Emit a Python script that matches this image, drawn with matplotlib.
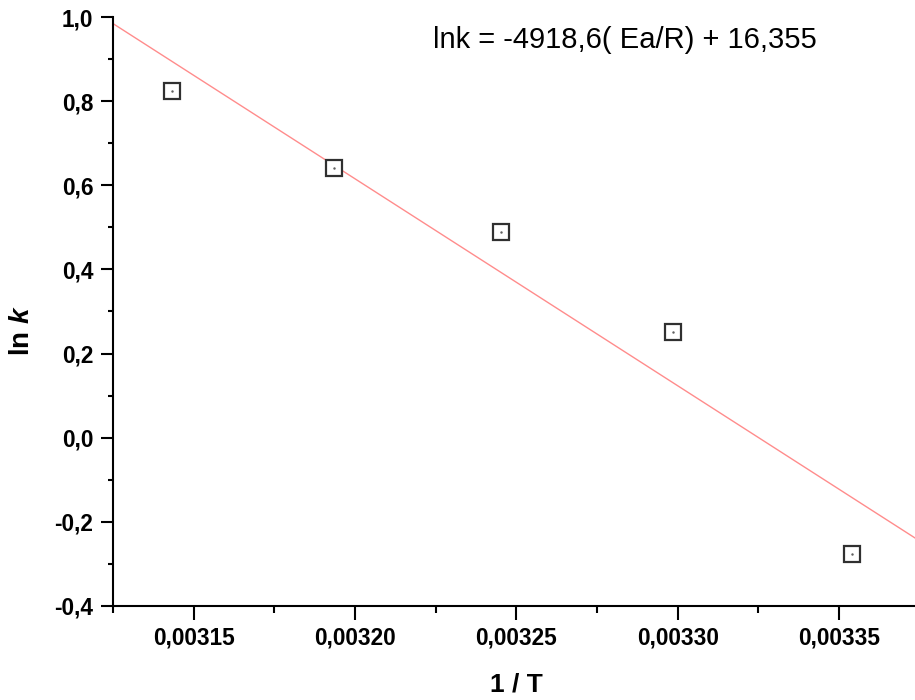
import matplotlib
matplotlib.use("Agg")
import matplotlib.pyplot as plt
from matplotlib.ticker import FixedLocator, MultipleLocator, FuncFormatter
import numpy as np

plt.rcParams['font.family'] = ['Liberation Sans', 'DejaVu Sans']
plt.rcParams['mathtext.fontset'] = 'custom'
plt.rcParams['mathtext.it'] = 'Liberation Sans:italic:bold'
plt.rcParams['mathtext.rm'] = 'Liberation Sans:bold'

# data
inv_T = [0.0031432, 0.0031934, 0.0032452, 0.0032987, 0.0033540]
ln_k = [0.823, 0.642, 0.490, 0.251, -0.277]
fit_slope = -4918.6
fit_intercept = 16.355
x_ticks = [0.00315, 0.00320, 0.00325, 0.00330, 0.00335]
y_ticks = [-0.4, -0.2, 0.0, 0.2, 0.4, 0.6, 0.8, 1.0]
x_limits = (0.003125, 0.003375)
y_limits = (-0.4, 1.0)
equation_text = "lnk = -4918,6( Ea/R) + 16,355"

fig = plt.figure(figsize=(9.15, 7.0), dpi=100)
ax = fig.add_axes([113/915, 94/700, (919.6-113)/915, (606-17)/700])

xl = np.array(x_limits)
ax.plot(xl, fit_intercept + fit_slope * xl, color='#ff8c8c', lw=1.0, zorder=2)
ax.plot(inv_T, ln_k, ls='none', marker='s', ms=11.5, mfc='white', mec='#303030',
        mew=1.6, zorder=3)
ax.plot(inv_T, ln_k, ls='none', marker='.', ms=1.5, color='#606060', zorder=4)

ax.set_xlim(*x_limits)
ax.set_ylim(*y_limits)
ax.xaxis.set_major_locator(FixedLocator(x_ticks))
ax.yaxis.set_major_locator(FixedLocator(y_ticks))
ax.xaxis.set_minor_locator(MultipleLocator(0.000025))
ax.yaxis.set_minor_locator(MultipleLocator(0.1))
ax.xaxis.set_major_formatter(FuncFormatter(lambda v, p: f"{v:.5f}".replace('.', ',')))
ax.yaxis.set_major_formatter(FuncFormatter(lambda v, p: f"{v:.1f}".replace('.', ',').replace('-0,0', '0,0')))

for s in ['top', 'right']:
    ax.spines[s].set_visible(False)
for s in ['left', 'bottom']:
    ax.spines[s].set_linewidth(1.5)

ax.tick_params(axis='x', which='major', direction='out', length=10, width=1.5, labelsize=16.3, pad=5)
ax.tick_params(axis='x', which='minor', direction='out', length=5, width=1.5)
ax.tick_params(axis='y', which='major', direction='out', length=8.6, width=1.5, labelsize=16.3, pad=5.5)
ax.tick_params(axis='y', which='minor', direction='out', length=3.6, width=1.5)
for lab in ax.get_xticklabels() + ax.get_yticklabels():
    lab.set_fontweight('bold')

fig.text(516/915, 1 - 684/700, "1 / T", fontsize=19, fontweight='bold', ha='center', va='center')
fig.text(22/915, 1 - 331/700, r"ln $\mathit{k}$", fontsize=20, fontweight='bold',
         rotation=90, ha='center', va='center')

fig.text(625/915, 1 - 48/700, equation_text, fontsize=21, ha='center', va='baseline')

fig.savefig("out.png", dpi=100)
